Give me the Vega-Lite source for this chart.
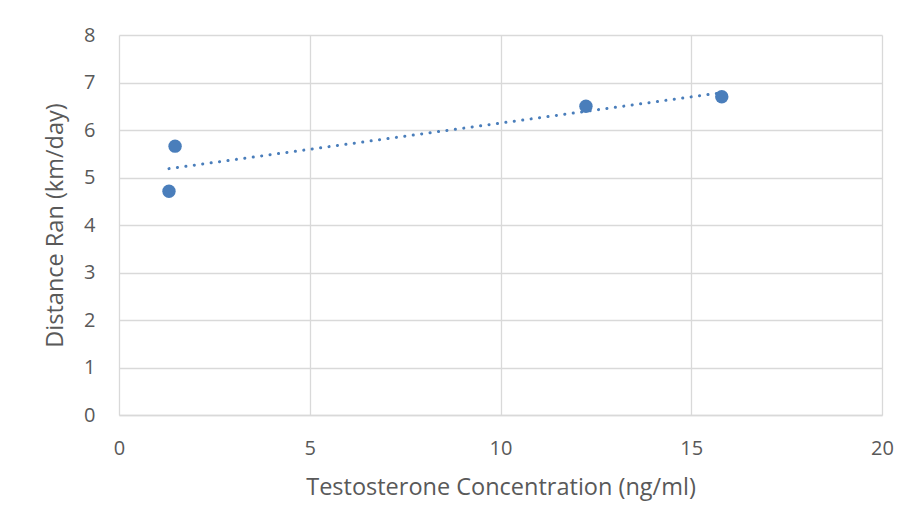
{
  "$schema": "https://vega.github.io/schema/vega-lite/v6.json",
  "width": 763,
  "height": 380,
  "autosize": "none",
  "padding": {"left": 119, "top": 35, "right": 32, "bottom": 116},
  "background": "white",
  "data": {
    "values": [
      {"testosterone": 1.31, "distance": 4.71},
      {"testosterone": 1.47, "distance": 5.66},
      {"testosterone": 12.24, "distance": 6.5},
      {"testosterone": 15.8, "distance": 6.7}
    ]
  },
  "config": {
    "view": {"stroke": null},
    "axis": {
      "labelFont": "Open Sans",
      "titleFont": "Open Sans",
      "labelColor": "#595959",
      "titleColor": "#595959",
      "labelFontSize": 20,
      "titleFontSize": 23.5,
      "titleFontWeight": "normal",
      "gridColor": "#d9d9d9",
      "gridWidth": 1.3,
      "ticks": false,
      "labelFlush": false
    }
  },
  "layer": [
    {
      "mark": {"type": "point", "filled": true, "opacity": 1, "size": 180, "color": "#4a7ebb"},
      "encoding": {
        "x": {
          "field": "testosterone",
          "type": "quantitative",
          "scale": {"domain": [0, 20], "nice": false},
          "axis": {
            "title": "Testosterone Concentration (ng/ml)",
            "values": [0, 5, 10, 15, 20],
            "domainColor": "#d9d9d9",
            "domainWidth": 1.3,
            "labelPadding": 23,
            "titlePadding": 17
          }
        },
        "y": {
          "field": "distance",
          "type": "quantitative",
          "scale": {"domain": [0, 8], "nice": false},
          "axis": {
            "title": "Distance Ran (km/day)",
            "values": [0, 1, 2, 3, 4, 5, 6, 7, 8],
            "domain": false,
            "labelPadding": 24,
            "titlePadding": 16
          }
        }
      }
    },
    {
      "transform": [{"regression": "distance", "on": "testosterone"}],
      "mark": {"type": "line", "color": "#4a7ebb", "strokeWidth": 3, "strokeCap": "round", "strokeDash": [0.1, 8.4]},
      "encoding": {
        "x": {"field": "testosterone", "type": "quantitative"},
        "y": {"field": "distance", "type": "quantitative"}
      }
    }
  ]
}
